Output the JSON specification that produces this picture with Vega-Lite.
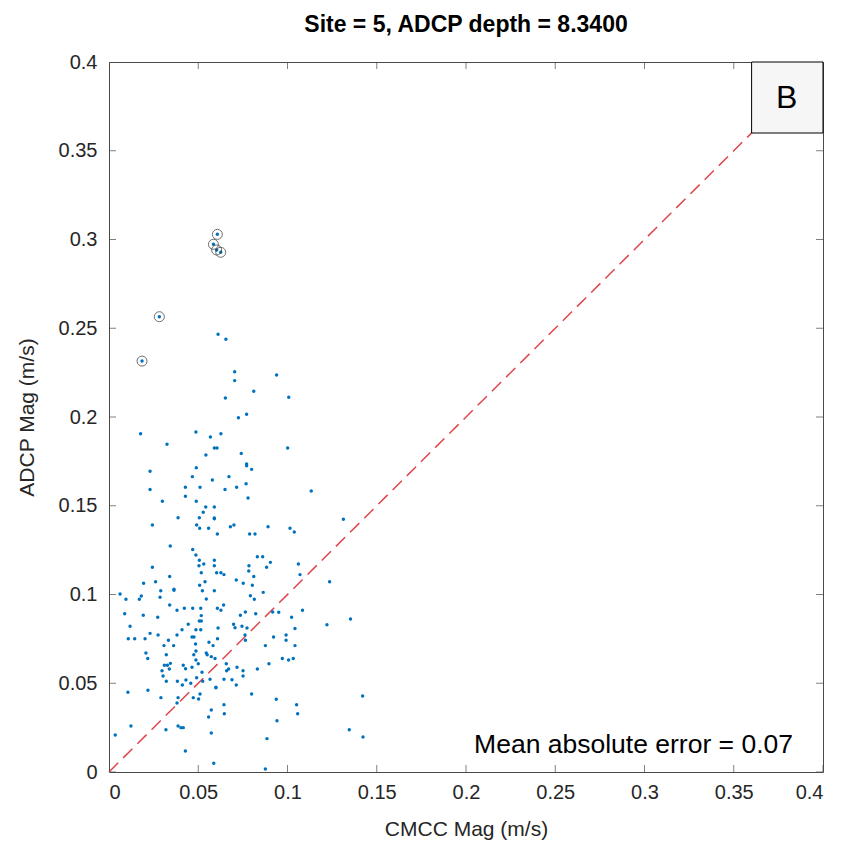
{
  "$schema": "https://vega.github.io/schema/vega-lite/v6.json",
  "autosize": "none",
  "width": 714,
  "height": 710,
  "padding": {"left": 109, "top": 62, "right": 40, "bottom": 73},
  "background": "white",
  "title": {"text": "Site = 5, ADCP depth = 8.3400", "font": "Liberation Sans", "fontSize": 23, "fontWeight": "bold", "color": "#000000", "anchor": "middle", "baseline": "alphabetic", "offset": -3},
  "config": {
    "view": {"stroke": null},
    "axis": {"grid": false, "ticks": false, "labelFont": "Liberation Sans", "labelFontSize": 20, "labelColor": "#262626", "titleFont": "Liberation Sans", "titleFontSize": 21, "titleFontWeight": "normal", "titleColor": "#262626", "domainColor": "#4a4a4a", "domainWidth": 1}
  },
  "datasets": {
    "pts": [
      {"cmcc":0.0611,"adcp":0.2466},{"cmcc":0.0655,"adcp":0.2438},{"cmcc":0.0704,"adcp":0.2255},{"cmcc":0.0704,"adcp":0.2205},{"cmcc":0.0939,"adcp":0.2237},{"cmcc":0.0811,"adcp":0.2145},{"cmcc":0.0652,"adcp":0.2107},{"cmcc":0.1007,"adcp":0.2111},
      {"cmcc":0.0607,"adcp":0.3029},{"cmcc":0.0585,"adcp":0.2973},{"cmcc":0.0603,"adcp":0.2941},{"cmcc":0.0626,"adcp":0.2928},{"cmcc":0.0282,"adcp":0.2565},{"cmcc":0.0185,"adcp":0.2315},
      {"cmcc":0.0725,"adcp":0.1996},{"cmcc":0.0771,"adcp":0.2015},{"cmcc":0.0177,"adcp":0.1906},{"cmcc":0.0487,"adcp":0.1915},{"cmcc":0.0568,"adcp":0.1887},{"cmcc":0.0627,"adcp":0.1906},{"cmcc":0.0325,"adcp":0.1846},{"cmcc":0.059,"adcp":0.1825},{"cmcc":0.0605,"adcp":0.1825},{"cmcc":0.1001,"adcp":0.1825},{"cmcc":0.0741,"adcp":0.1795},{"cmcc":0.0543,"adcp":0.1786},{"cmcc":0.0771,"adcp":0.1735},{"cmcc":0.0771,"adcp":0.1725},{"cmcc":0.0799,"adcp":0.1705},{"cmcc":0.023,"adcp":0.1694},{"cmcc":0.0489,"adcp":0.1714},{"cmcc":0.0467,"adcp":0.1664},{"cmcc":0.0672,"adcp":0.1664},{"cmcc":0.0579,"adcp":0.1645},{"cmcc":0.0768,"adcp":0.1624},{"cmcc":0.023,"adcp":0.1592},{"cmcc":0.0428,"adcp":0.1604},{"cmcc":0.051,"adcp":0.1604},{"cmcc":0.065,"adcp":0.1592},{"cmcc":0.0715,"adcp":0.1604},{"cmcc":0.0428,"adcp":0.1553},{"cmcc":0.0779,"adcp":0.1544},{"cmcc":0.0299,"adcp":0.1525},{"cmcc":0.0489,"adcp":0.1525},{"cmcc":0.0542,"adcp":0.1493},{"cmcc":0.059,"adcp":0.1493},{"cmcc":0.0528,"adcp":0.1463},{"cmcc":0.0387,"adcp":0.1433},{"cmcc":0.0506,"adcp":0.1433},{"cmcc":0.059,"adcp":0.1431},{"cmcc":0.059,"adcp":0.1427},{"cmcc":0.0243,"adcp":0.1392},{"cmcc":0.0491,"adcp":0.1392},{"cmcc":0.0508,"adcp":0.1373},{"cmcc":0.0558,"adcp":0.1373},{"cmcc":0.068,"adcp":0.1382},{"cmcc":0.07,"adcp":0.1392},{"cmcc":0.0607,"adcp":0.1341},{"cmcc":0.0788,"adcp":0.1341},{"cmcc":0.0818,"adcp":0.1341},{"cmcc":0.0891,"adcp":0.1382},{"cmcc":0.1014,"adcp":0.1373},{"cmcc":0.1038,"adcp":0.1352},{"cmcc":0.0343,"adcp":0.1273},{"cmcc":0.0469,"adcp":0.1253},{"cmcc":0.0487,"adcp":0.1223},{"cmcc":0.0506,"adcp":0.1193},{"cmcc":0.059,"adcp":0.1193},{"cmcc":0.0831,"adcp":0.1213},{"cmcc":0.0861,"adcp":0.1213},{"cmcc":0.0504,"adcp":0.1162},{"cmcc":0.0531,"adcp":0.1172},{"cmcc":0.059,"adcp":0.1162},{"cmcc":0.0784,"adcp":0.1162},{"cmcc":0.0904,"adcp":0.1181},{"cmcc":0.1061,"adcp":0.1172},{"cmcc":0.0243,"adcp":0.1153},{"cmcc":0.0883,"adcp":0.1153},{"cmcc":0.0517,"adcp":0.1123},{"cmcc":0.0603,"adcp":0.1123},{"cmcc":0.0627,"adcp":0.1123},{"cmcc":0.0644,"adcp":0.1112},{"cmcc":0.0783,"adcp":0.1132},{"cmcc":0.0811,"adcp":0.1102},{"cmcc":0.107,"adcp":0.1112},{"cmcc":0.034,"adcp":0.1102},{"cmcc":0.0194,"adcp":0.1063},{"cmcc":0.0261,"adcp":0.1072},{"cmcc":0.0508,"adcp":0.1052},{"cmcc":0.0538,"adcp":0.1072},{"cmcc":0.0713,"adcp":0.1082},{"cmcc":0.0752,"adcp":0.1063},{"cmcc":0.0803,"adcp":0.1052},{"cmcc":0.0364,"adcp":0.103},{"cmcc":0.0364,"adcp":0.1024},{"cmcc":0.029,"adcp":0.1021},{"cmcc":0.0523,"adcp":0.1021},{"cmcc":0.059,"adcp":0.1021},{"cmcc":0.0864,"adcp":0.1012},{"cmcc":0.0062,"adcp":0.1003},
      {"cmcc":0.0095,"adcp":0.0973},{"cmcc":0.017,"adcp":0.0973},{"cmcc":0.0181,"adcp":0.0992},{"cmcc":0.0286,"adcp":0.0984},{"cmcc":0.0792,"adcp":0.0993},{"cmcc":0.0814,"adcp":0.0973},{"cmcc":0.0545,"adcp":0.0975},
      {"cmcc":0.0088,"adcp":0.0892},{"cmcc":0.0192,"adcp":0.0883},{"cmcc":0.0273,"adcp":0.0872},{"cmcc":0.034,"adcp":0.0941},{"cmcc":0.0381,"adcp":0.0911},{"cmcc":0.0422,"adcp":0.0922},{"cmcc":0.0469,"adcp":0.0922},{"cmcc":0.0514,"adcp":0.0922},{"cmcc":0.0517,"adcp":0.0881},{"cmcc":0.0607,"adcp":0.0922},{"cmcc":0.0627,"adcp":0.0911},{"cmcc":0.0642,"adcp":0.0941},{"cmcc":0.0764,"adcp":0.0901},{"cmcc":0.0736,"adcp":0.0883},{"cmcc":0.0822,"adcp":0.0892},{"cmcc":0.0917,"adcp":0.0901},{"cmcc":0.0951,"adcp":0.09},{"cmcc":0.1023,"adcp":0.0872},
      {"cmcc":0.0118,"adcp":0.0821},{"cmcc":0.0444,"adcp":0.0832},{"cmcc":0.0506,"adcp":0.0851},{"cmcc":0.0517,"adcp":0.0851},{"cmcc":0.0409,"adcp":0.0802},{"cmcc":0.0487,"adcp":0.0802},{"cmcc":0.0514,"adcp":0.0802},{"cmcc":0.0611,"adcp":0.0811},{"cmcc":0.0698,"adcp":0.0832},{"cmcc":0.0706,"adcp":0.0813},{"cmcc":0.0745,"adcp":0.0821},{"cmcc":0.0773,"adcp":0.0811},
      {"cmcc":0.023,"adcp":0.0781},{"cmcc":0.0381,"adcp":0.0772},{"cmcc":0.0275,"adcp":0.0772},{"cmcc":0.0108,"adcp":0.0751},{"cmcc":0.0144,"adcp":0.0751},{"cmcc":0.0202,"adcp":0.0751},{"cmcc":0.0465,"adcp":0.0761},{"cmcc":0.0476,"adcp":0.0761},{"cmcc":0.0485,"adcp":0.0721},{"cmcc":0.0608,"adcp":0.0751},{"cmcc":0.0762,"adcp":0.0772},{"cmcc":0.0764,"adcp":0.0742},{"cmcc":0.0333,"adcp":0.0742},{"cmcc":0.0922,"adcp":0.0761},{"cmcc":0.0992,"adcp":0.0772},{"cmcc":0.0992,"adcp":0.0742},
      {"cmcc":0.0308,"adcp":0.0712},{"cmcc":0.0362,"adcp":0.0712},{"cmcc":0.056,"adcp":0.0731},{"cmcc":0.0583,"adcp":0.0712},{"cmcc":0.0876,"adcp":0.0712},{"cmcc":0.1042,"adcp":0.0712},
      {"cmcc":0.0321,"adcp":0.0661},{"cmcc":0.0207,"adcp":0.067},{"cmcc":0.0217,"adcp":0.064},{"cmcc":0.0487,"adcp":0.0682},{"cmcc":0.0475,"adcp":0.0661},{"cmcc":0.0487,"adcp":0.0631},{"cmcc":0.0545,"adcp":0.067},{"cmcc":0.055,"adcp":0.0661},{"cmcc":0.0573,"adcp":0.065},{"cmcc":0.0594,"adcp":0.064},{"cmcc":0.0971,"adcp":0.064},{"cmcc":0.1006,"adcp":0.0631},{"cmcc":0.1032,"adcp":0.064},
      {"cmcc":0.031,"adcp":0.0601},{"cmcc":0.0327,"adcp":0.0601},{"cmcc":0.0344,"adcp":0.0612},{"cmcc":0.0297,"adcp":0.0571},{"cmcc":0.0303,"adcp":0.0541},{"cmcc":0.0338,"adcp":0.058},{"cmcc":0.0416,"adcp":0.0601},{"cmcc":0.0429,"adcp":0.0582},{"cmcc":0.0465,"adcp":0.059},{"cmcc":0.05,"adcp":0.061},{"cmcc":0.0521,"adcp":0.0562},{"cmcc":0.0657,"adcp":0.061},{"cmcc":0.067,"adcp":0.058},{"cmcc":0.0659,"adcp":0.0571},{"cmcc":0.0717,"adcp":0.059},{"cmcc":0.0751,"adcp":0.0571},{"cmcc":0.0831,"adcp":0.058},{"cmcc":0.0896,"adcp":0.061},{"cmcc":0.0751,"adcp":0.0541},
      {"cmcc":0.0321,"adcp":0.0511},{"cmcc":0.0383,"adcp":0.0511},{"cmcc":0.0411,"adcp":0.049},{"cmcc":0.0431,"adcp":0.0518},{"cmcc":0.0458,"adcp":0.05},{"cmcc":0.0491,"adcp":0.0531},{"cmcc":0.0525,"adcp":0.0511},{"cmcc":0.0566,"adcp":0.0522},{"cmcc":0.0644,"adcp":0.0522},{"cmcc":0.0689,"adcp":0.052},{"cmcc":0.0713,"adcp":0.049},
      {"cmcc":0.0218,"adcp":0.046},{"cmcc":0.0106,"adcp":0.0449},{"cmcc":0.0599,"adcp":0.0478},{"cmcc":0.0599,"adcp":0.0474},{"cmcc":0.0291,"adcp":0.0419},{"cmcc":0.0387,"adcp":0.0419},{"cmcc":0.0472,"adcp":0.0419},{"cmcc":0.0502,"adcp":0.0411},{"cmcc":0.051,"adcp":0.0439},{"cmcc":0.0799,"adcp":0.0439},{"cmcc":0.0937,"adcp":0.041},{"cmcc":0.1051,"adcp":0.0379},{"cmcc":0.1057,"adcp":0.0328},{"cmcc":0.0381,"adcp":0.0389},{"cmcc":0.0573,"adcp":0.0349},{"cmcc":0.0644,"adcp":0.0379},{"cmcc":0.0646,"adcp":0.0328},{"cmcc":0.0558,"adcp":0.031},
      {"cmcc":0.0123,"adcp":0.0259},{"cmcc":0.0387,"adcp":0.0259},{"cmcc":0.0403,"adcp":0.025},{"cmcc":0.0416,"adcp":0.025},{"cmcc":0.0319,"adcp":0.0238},{"cmcc":0.0573,"adcp":0.022},{"cmcc":0.0941,"adcp":0.0289},{"cmcc":0.0035,"adcp":0.0208},{"cmcc":0.0885,"adcp":0.0188},{"cmcc":0.0428,"adcp":0.0118},{"cmcc":0.0587,"adcp":0.0049},{"cmcc":0.0876,"adcp":0.0017},
      {"cmcc":0.1133,"adcp":0.1583},{"cmcc":0.1313,"adcp":0.1424},{"cmcc":0.1236,"adcp":0.1072},{"cmcc":0.1084,"adcp":0.0911},{"cmcc":0.1353,"adcp":0.0862},{"cmcc":0.1221,"adcp":0.083},{"cmcc":0.1042,"adcp":0.0809},{"cmcc":0.1421,"adcp":0.0428},{"cmcc":0.1346,"adcp":0.0238},{"cmcc":0.1423,"adcp":0.0197}
    ],
    "circled": [
      {"cmcc":0.0607,"adcp":0.3029},{"cmcc":0.0585,"adcp":0.2973},{"cmcc":0.0603,"adcp":0.2941},{"cmcc":0.0626,"adcp":0.2928},{"cmcc":0.0282,"adcp":0.2565},{"cmcc":0.0185,"adcp":0.2315}
    ],
    "ticks": [{"v":0},{"v":0.05},{"v":0.1},{"v":0.15},{"v":0.2},{"v":0.25},{"v":0.3},{"v":0.35},{"v":0.4}],
    "diag": [{"cmcc":0,"adcp":0},{"cmcc":0.4,"adcp":0.4}],
    "box": [{"x1":0.36,"x2":0.4,"y1":0.36,"y2":0.4,"label":"B"}],
    "note": [{"cmcc":0.3832,"adcp":0.0107,"label":"Mean absolute error = 0.07"}]
  },
  "resolve": {"axis": {"x": "independent", "y": "independent"}},
  "layer": [
    {
      "data": {"name": "diag"},
      "mark": {"type": "line", "color": "#e0454c", "strokeWidth": 1.5, "strokeDash": [13, 7]},
      "encoding": {
        "x": {"field": "cmcc", "type": "quantitative", "scale": {"domain": [0, 0.4], "nice": false, "zero": false}, "axis": null},
        "y": {"field": "adcp", "type": "quantitative", "scale": {"domain": [0, 0.4], "nice": false, "zero": false}, "axis": null}
      }
    },
    {
      "data": {"name": "ticks"},
      "mark": {"type": "tick", "orient": "vertical", "size": 14, "thickness": 1, "color": "#4a4a4a", "clip": true},
      "encoding": {
        "x": {"field": "v", "type": "quantitative", "axis": null},
        "y": {"datum": 0, "type": "quantitative", "axis": null}
      }
    },
    {
      "data": {"name": "ticks"},
      "mark": {"type": "tick", "orient": "vertical", "size": 14, "thickness": 1, "color": "#4a4a4a", "clip": true},
      "encoding": {
        "x": {"field": "v", "type": "quantitative", "axis": null},
        "y": {"datum": 0.4, "type": "quantitative", "axis": null}
      }
    },
    {
      "data": {"name": "ticks"},
      "mark": {"type": "tick", "orient": "horizontal", "size": 14, "thickness": 1, "color": "#4a4a4a", "clip": true},
      "encoding": {
        "y": {"field": "v", "type": "quantitative", "axis": null},
        "x": {"datum": 0, "type": "quantitative", "axis": null}
      }
    },
    {
      "data": {"name": "ticks"},
      "mark": {"type": "tick", "orient": "horizontal", "size": 14, "thickness": 1, "color": "#4a4a4a", "clip": true},
      "encoding": {
        "y": {"field": "v", "type": "quantitative", "axis": null},
        "x": {"datum": 0.4, "type": "quantitative", "axis": null}
      }
    },
    {
      "data": {"name": "pts"},
      "mark": {"type": "circle", "color": "#0072BD", "size": 12, "opacity": 1},
      "encoding": {
        "x": {"field": "cmcc", "type": "quantitative", "title": "CMCC Mag (m/s)", "axis": {"orient": "bottom", "values": [0,0.05,0.1,0.15,0.2,0.25,0.3,0.35,0.4], "format": "~g", "labelPadding": 10, "titleX": 357, "titleY": 57, "titleBaseline": "middle"}},
        "y": {"field": "adcp", "type": "quantitative", "title": "ADCP Mag (m/s)", "axis": {"orient": "left", "values": [0,0.05,0.1,0.15,0.2,0.25,0.3,0.35,0.4], "format": "~g", "labelPadding": 12, "titleX": -82, "titleY": 355, "titleAngle": -90, "titleBaseline": "middle", "titleAlign": "center"}}
      }
    },
    {
      "data": {"name": "circled"},
      "mark": {"type": "point", "shape": "circle", "filled": false, "stroke": "#333333", "strokeWidth": 1, "size": 100},
      "encoding": {
        "x": {"field": "cmcc", "type": "quantitative", "axis": {"orient": "top", "labels": false, "title": null}},
        "y": {"field": "adcp", "type": "quantitative", "axis": {"orient": "right", "labels": false, "title": null}}
      }
    },
    {
      "data": {"name": "box"},
      "mark": {"type": "rect", "fill": "#f6f6f6", "stroke": "#000000", "strokeWidth": 1},
      "encoding": {
        "x": {"field": "x1", "type": "quantitative", "axis": null},
        "x2": {"field": "x2"},
        "y": {"field": "y1", "type": "quantitative", "axis": null},
        "y2": {"field": "y2"}
      }
    },
    {
      "data": {"name": "box"},
      "mark": {"type": "text", "font": "Liberation Sans", "fontSize": 32, "color": "#000000", "align": "center", "baseline": "middle", "dx": 35, "dy": -35},
      "encoding": {
        "x": {"field": "x1", "type": "quantitative", "axis": null},
        "y": {"field": "y1", "type": "quantitative", "axis": null},
        "text": {"field": "label"}
      }
    },
    {
      "data": {"name": "note"},
      "mark": {"type": "text", "font": "Liberation Sans", "fontSize": 26.5, "color": "#000000", "align": "right", "baseline": "alphabetic"},
      "encoding": {
        "x": {"field": "cmcc", "type": "quantitative", "axis": null},
        "y": {"field": "adcp", "type": "quantitative", "axis": null},
        "text": {"field": "label"}
      }
    }
  ]
}
